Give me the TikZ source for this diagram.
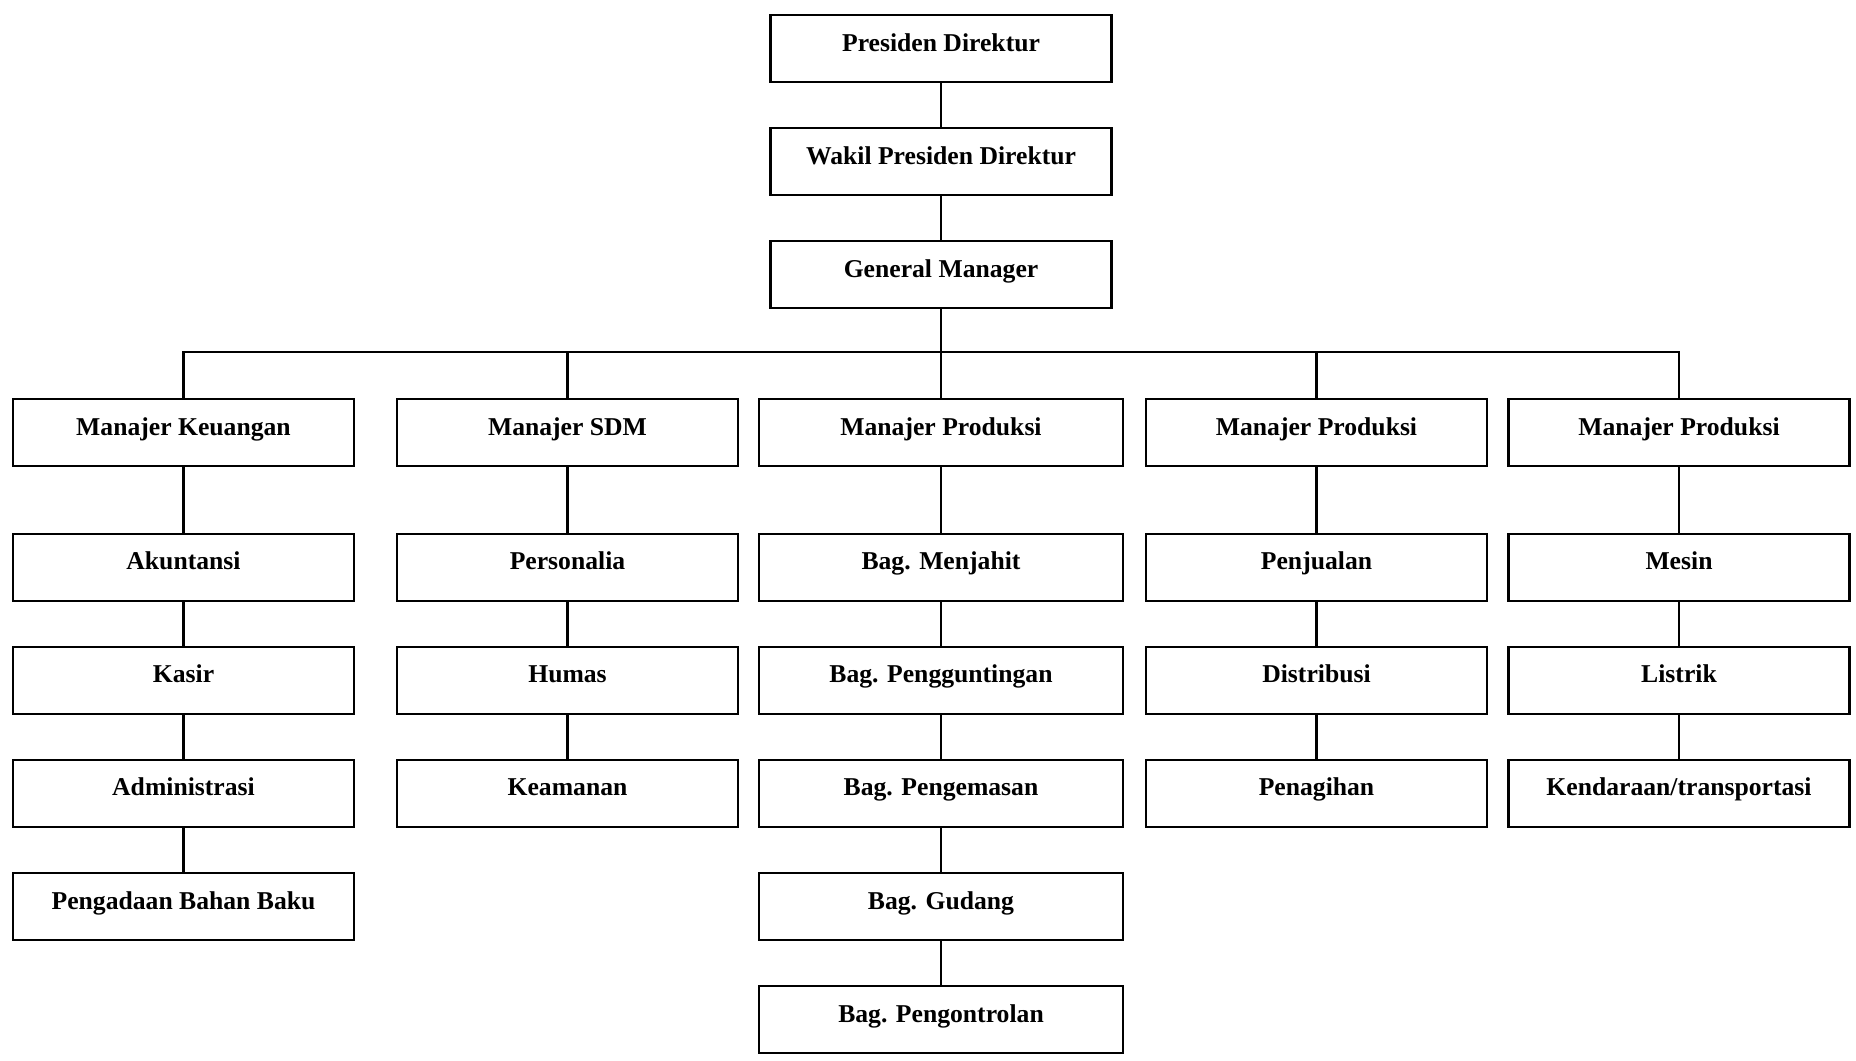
\documentclass[tikz,border=0pt]{standalone}
\usepackage{fontspec}
\setmainfont{Liberation Serif}
\usetikzlibrary{positioning}

\begin{document}
\begin{tikzpicture}[
    node distance=0.88cm,
    line width=1.2pt,
    box/.style={draw, line width=1.2pt, minimum width=6.82cm, minimum height=1.34cm, inner sep=2pt, text height=9pt, text depth=6pt, font=\bfseries\fontsize{14.6}{16}\selectfont},
    wide/.style={box, minimum width=7.28cm}
]
\useasboundingbox (0,0) rectangle (37.12,-21.22);

\node[box] (pd) at (18.82,-0.97) {Presiden Direktur};
\node[box, below=of pd] (wpd) {Wakil Presiden Direktur};
\node[box, below=of wpd] (gm) {General Manager};

\node[box] (mk) at (3.67,-8.65) {Manajer Keuangan};
\node[box] (ms) at (11.35,-8.65) {Manajer SDM};
\node[wide] (mp) at (18.82,-8.65) {Manajer Produksi};
\node[box] (mpb) at (26.33,-8.65) {Manajer Produksi};
\node[box] (mpc) at (33.58,-8.65) {Manajer Produksi};

\node[box, below=1.31cm of mk] (akt) {Akuntansi};
\node[box, below=of akt] (ksr) {Kasir};
\node[box, below=of ksr] (adm) {Administrasi};
\node[box, below=of adm] (pbb) {Pengadaan Bahan Baku};

\node[box, below=1.31cm of ms] (prs) {Personalia};
\node[box, below=of prs] (hms) {Humas};
\node[box, below=of hms] (kmn) {Keamanan};

\node[wide, below=1.31cm of mp] (mjh) {Bag. Menjahit};
\node[wide, below=of mjh] (pgt) {Bag. Pengguntingan};
\node[wide, below=of pgt] (pgm) {Bag. Pengemasan};
\node[wide, below=of pgm] (gdg) {Bag. Gudang};
\node[wide, below=of gdg] (pkt) {Bag. Pengontrolan};

\node[box, below=1.31cm of mpb] (pjl) {Penjualan};
\node[box, below=of pjl] (dst) {Distribusi};
\node[box, below=of dst] (pgh) {Penagihan};

\node[box, below=1.31cm of mpc] (msn) {Mesin};
\node[box, below=of msn] (lst) {Listrik};
\node[box, below=of lst] (kdr) {Kendaraan/transportasi};

\draw (pd) -- (wpd);
\draw (wpd) -- (gm);
\draw (gm) -- (mp);
\draw (mk.north) -- ++(0,0.915) coordinate (bus) -| (mpc.north);
\draw (bus -| ms.north) -- (ms.north);
\draw (bus -| mpb.north) -- (mpb.north);

\draw (mk) -- (akt);
\draw (akt) -- (ksr);
\draw (ksr) -- (adm);
\draw (adm) -- (pbb);
\draw (ms) -- (prs);
\draw (prs) -- (hms);
\draw (hms) -- (kmn);
\draw (mp) -- (mjh);
\draw (mjh) -- (pgt);
\draw (pgt) -- (pgm);
\draw (pgm) -- (gdg);
\draw (gdg) -- (pkt);
\draw (mpb) -- (pjl);
\draw (pjl) -- (dst);
\draw (dst) -- (pgh);
\draw (mpc) -- (msn);
\draw (msn) -- (lst);
\draw (lst) -- (kdr);
\end{tikzpicture}
\end{document}
